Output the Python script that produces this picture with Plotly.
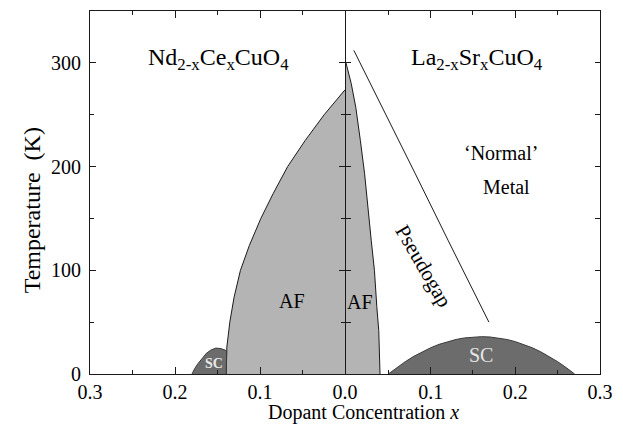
import plotly.graph_objects as go

FONT = "Liberation Serif, Times New Roman, serif"

# Nd(2-x)Ce(x)CuO4 (electron doped, left panel; x axis runs 0.3 -> 0)
ncco_af_x = [0.1397, 0.139, 0.1355, 0.1305, 0.123, 0.1125, 0.099, 0.0845, 0.0675, 0.047, 0.0245, 0.0]
ncco_af_T = [0, 26, 50, 74, 100, 124, 150, 174, 200, 225, 250, 274]
ncco_sc_x = [0.180, 0.177, 0.173, 0.168, 0.163, 0.158, 0.152, 0.146, 0.1393, 0.1397]
ncco_sc_T = [0, 5, 10, 15, 20, 23, 25, 24.5, 22.5, 0]

# La(2-x)Sr(x)CuO4 (hole doped, right panel)
lsco_af_x = [0.0402, 0.0387, 0.0364, 0.0336, 0.0298, 0.0262, 0.0220, 0.0170, 0.0116, 0.0062, 0.0]
lsco_af_T = [0, 42, 65, 100, 129, 160, 193, 225, 257, 280, 300]
lsco_sc_x = [0.05, 0.06, 0.07, 0.08, 0.09, 0.10, 0.11, 0.12, 0.13, 0.14, 0.15, 0.16,
             0.17, 0.18, 0.19, 0.20, 0.21, 0.22, 0.23, 0.24, 0.25, 0.26, 0.27]
lsco_sc_T = [0, 6.2, 11.9, 17.0, 21.4, 25.3, 28.6, 31.2, 33.3, 34.8, 35.7, 36,
             35.7, 34.8, 33.3, 31.2, 28.6, 25.3, 21.4, 17.0, 11.9, 6.2, 0]
pseudogap_x = [0.0093, 0.0433, 0.0819, 0.1205, 0.159, 0.1688]
pseudogap_T = [312, 257, 193, 129, 65, 50]

x_major_left = [0.3, 0.2, 0.1, 0.0]
x_minor_left = [0.25, 0.15, 0.05]
x_major_right = [0.1, 0.2, 0.3]
x_minor_right = [0.05, 0.15, 0.25]
t_major = [0, 100, 200, 300]

AF_GRAY = "#b4b4b4"
SC_GRAY = "#6c6c6c"
INK = "#1a1a1a"

fig = go.Figure()

# antiferromagnetic regions: fill first, then the phase boundary on top
for xs, ts, xa, ya in [(ncco_af_x, ncco_af_T, "x", "y"), (lsco_af_x, lsco_af_T, "x2", "y2")]:
    fig.add_trace(go.Scatter(x=xs + [0.0], y=ts + [0], xaxis=xa, yaxis=ya,
                             mode="lines", fill="toself", fillcolor=AF_GRAY,
                             line=dict(width=0), hoverinfo="skip"))
    fig.add_trace(go.Scatter(x=xs, y=ts, xaxis=xa, yaxis=ya, mode="lines",
                             line=dict(color=INK, width=1), hoverinfo="skip"))

# superconducting domes
fig.add_trace(go.Scatter(x=ncco_sc_x, y=ncco_sc_T, xaxis="x", yaxis="y",
                         mode="lines", fill="toself", fillcolor=SC_GRAY,
                         line=dict(color="#3a3a3a", width=1), hoverinfo="skip"))
fig.add_trace(go.Scatter(x=lsco_sc_x, y=lsco_sc_T, xaxis="x2", yaxis="y2",
                         mode="lines", fill="toself", fillcolor=SC_GRAY,
                         line=dict(color="#3a3a3a", width=1), hoverinfo="skip"))

# pseudogap crossover line
fig.add_trace(go.Scatter(x=pseudogap_x, y=pseudogap_T, xaxis="x2", yaxis="y2",
                         mode="lines", line=dict(color=INK, width=1), hoverinfo="skip"))

axis_common = dict(showline=True, linecolor=INK, linewidth=1, mirror="ticks",
                   ticks="inside", tickcolor=INK, tickwidth=1, showgrid=False,
                   zeroline=False, tickfont=dict(family=FONT, size=20, color="black"))

# right panel starts one pixel later so both centre lines coincide
RIGHT_START = 0.5 + 1 / 517

fig.update_layout(
    width=623, height=434,
    margin=dict(l=90, r=16, t=10, b=60),
    paper_bgcolor="white", plot_bgcolor="white",
    showlegend=False,
    font=dict(family=FONT, color="black"),
    xaxis=dict(domain=[0, 0.5], range=[0.3, 0.0], anchor="y",
               tickvals=x_major_left, tickformat=".1f", ticklen=7,
               minor=dict(tickvals=x_minor_left, ticklen=4, ticks="inside", tickcolor=INK),
               **axis_common),
    xaxis2=dict(domain=[RIGHT_START, 1], range=[0.0, 0.3], anchor="y2",
                tickvals=x_major_right, tickformat=".1f", ticklen=7,
                minor=dict(tickvals=x_minor_right, ticklen=4, ticks="inside", tickcolor=INK),
                **axis_common),
    yaxis=dict(domain=[0, 1], range=[0, 350], anchor="x",
               tickvals=t_major, ticklen=6, ticklabelstandoff=4,
               minor=dict(dtick=50, ticklen=4, ticks="inside", tickcolor=INK),
               **axis_common),
    yaxis2=dict(domain=[0, 1], range=[0, 350], anchor="x2", matches="y",
                tickvals=t_major, ticklen=5, showticklabels=False,
                minor=dict(dtick=50, ticklen=5, ticks="inside", tickcolor=INK),
                **axis_common),
)

def label(text, x, y, xref, yref, size, color="black", angle=0, **kw):
    fig.add_annotation(text=text, x=x, y=y, xref=xref, yref=yref, showarrow=False,
                       textangle=angle, font=dict(family=FONT, size=size, color=color),
                       xanchor="center", yanchor="middle", **kw)

label("Nd<sub>2-x</sub>Ce<sub>x</sub>CuO<sub>4</sub>", 0.1487, 304, "x", "y", 24)
label("La<sub>2-x</sub>Sr<sub>x</sub>CuO<sub>4</sub>", 0.1543, 304, "x2", "y2", 24)
label("‘Normal’", 0.1833, 213.5, "x2", "y2", 20)
label("Metal", 0.19, 180, "x2", "y2", 20)
label("Pseudogap", 0.0916, 104, "x2", "y2", 21, angle=60)
label("AF", 0.0623, 70, "x", "y", 20)
label("AF", 0.017, 69, "x2", "y2", 20)
label("<b>SC</b>", 0.154, 10.6, "x", "y", 14, color="#eaeaea")
label("SC", 0.160, 18, "x2", "y2", 20, color="#e6e6e6")

# axis titles
label("Dopant Concentration <i>x</i>", 0.537, -0.107, "paper", "paper", 20)
label("Temperature  (K)", -0.112, 0.4505, "paper", "paper", 24, angle=-90)

fig.write_html("out.html")
